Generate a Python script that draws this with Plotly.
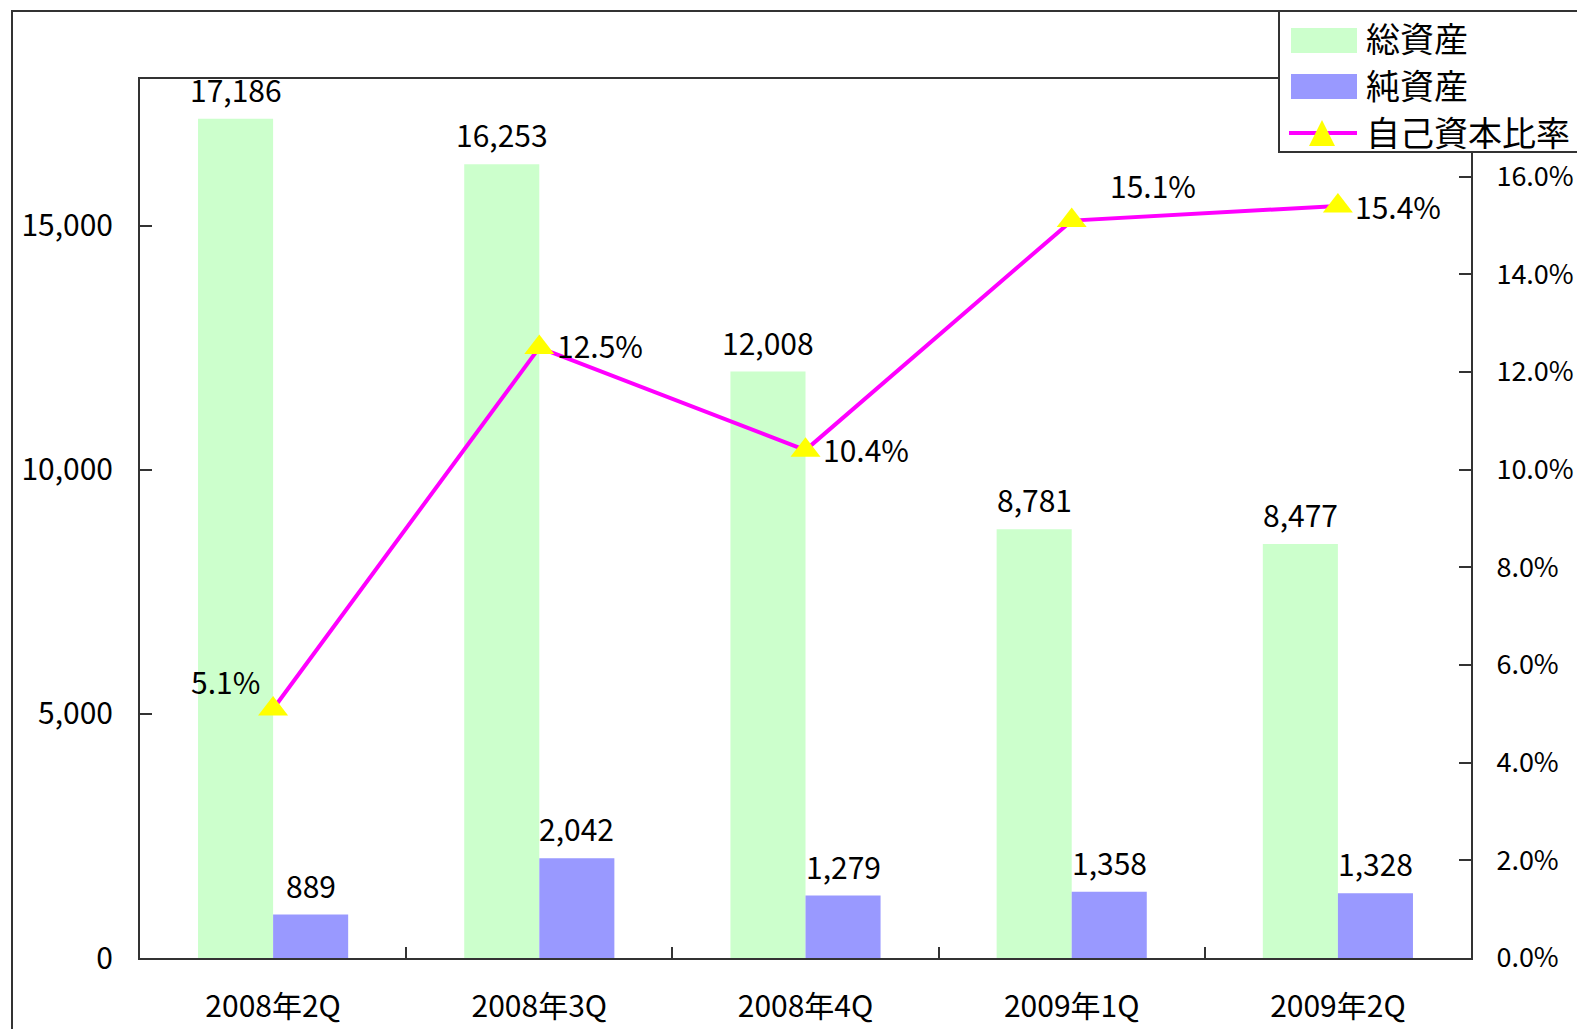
import plotly.graph_objects as go

categories = ["2008年2Q", "2008年3Q", "2008年4Q", "2009年1Q", "2009年2Q"]
total_assets = [17186, 16253, 12008, 8781, 8477]
net_assets = [889, 2042, 1279, 1358, 1328]
equity_ratio = [5.1, 12.5, 10.4, 15.1, 15.4]
series_names = ["総資産", "純資産", "自己資本比率"]

FONT = "Noto Sans CJK JP"
W, H = 1577, 1029
L, R, T, B = 140, 1471, 79, 958
BARGAP = 0.436


def px(x):
    return (x - L) / (R - L)


def py(y):
    return (B - y) / (B - T)


fig = go.Figure()
fig.add_trace(go.Bar(
    x=categories, y=total_assets, name=series_names[0],
    marker=dict(color="#CCFFCC", line=dict(width=0)),
    showlegend=False,
))
fig.add_trace(go.Bar(
    x=categories, y=net_assets, name=series_names[1],
    marker=dict(color="#9999FF", line=dict(width=0)),
    showlegend=False,
))
fig.add_trace(go.Scatter(
    x=categories, y=equity_ratio, name=series_names[2], yaxis="y2",
    mode="lines+markers",
    line=dict(color="#FF00FF", width=4),
    marker=dict(symbol="triangle-up", size=26, color="#FFFF00", line=dict(width=0)),
    cliponaxis=False, showlegend=False,
))

annotations = []
# bar value labels (offset to each bar of the group)
bar_half = (R - L) / len(categories) * (1 - BARGAP) / 4
for series, side in ((total_assets, -1), (net_assets, 1)):
    for c, v in zip(categories, series):
        annotations.append(dict(
            x=c, y=v, xref="x", yref="y", text=f"{v:,}", showarrow=False,
            xshift=side * bar_half, yshift=6, yanchor="bottom",
            font=dict(size=30, color="black", family=FONT),
        ))

# point labels for the line
label_shifts = [(-48, 28), (61, 3), (60, 1), (81, 36), (60, 0)]
for c, v, (dx, dy) in zip(categories, equity_ratio, label_shifts):
    annotations.append(dict(
        x=c, y=v, xref="x", yref="y2", text=f"{v:.1f}%", showarrow=False,
        xshift=dx, yshift=dy, font=dict(size=30, color="black", family=FONT),
    ))

# custom legend
shapes = [
    # outer chart border
    dict(type="rect", xref="paper", yref="paper", x0=px(12), x1=px(1620), y0=py(11), y1=py(1080),
         line=dict(color="#333333", width=2), fillcolor="rgba(0,0,0,0)", layer="below"),
    # legend box
    dict(type="rect", xref="paper", yref="paper", x0=px(1279), x1=px(1600), y0=py(11), y1=py(152),
         line=dict(color="#333333", width=2), fillcolor="white", layer="above"),
    dict(type="rect", xref="paper", yref="paper", x0=px(1291), x1=px(1357), y0=py(28), y1=py(53),
         line=dict(width=0), fillcolor="#CCFFCC", layer="above"),
    dict(type="rect", xref="paper", yref="paper", x0=px(1291), x1=px(1357), y0=py(74), y1=py(99),
         line=dict(width=0), fillcolor="#9999FF", layer="above"),
    dict(type="line", xref="paper", yref="paper", x0=px(1289), x1=px(1357), y0=py(133), y1=py(133),
         line=dict(color="#FF00FF", width=4), layer="above"),
    dict(type="path", xref="paper", yref="paper",
         path=f"M{px(1309)},{py(146)} L{px(1335)},{py(146)} L{px(1322)},{py(120)} Z",
         line=dict(width=0), fillcolor="#FFFF00", layer="above"),
]
for name, yc in zip(series_names, [38, 85, 131]):
    annotations.append(dict(
        x=px(1364), y=py(yc), xref="paper", yref="paper", text=name, showarrow=False,
        xanchor="left", yanchor="middle", font=dict(size=34, color="black", family=FONT),
    ))

axis_common = dict(showline=True, linecolor="#333333", linewidth=2, showgrid=False,
                   zeroline=False, automargin=False)

fig.update_layout(
    width=W, height=H,
    margin=dict(l=L, r=W - R, t=T, b=H - B, pad=0, autoexpand=False),
    paper_bgcolor="white", plot_bgcolor="white",
    font=dict(family=FONT, size=30, color="black"),
    barmode="group", bargap=BARGAP, bargroupgap=0,
    xaxis=dict(**axis_common, mirror=True, type="category", ticks="inside", tickson="boundaries",
               ticklen=11, tickcolor="#333333", tickwidth=1.5, tickfont=dict(size=30),
               ticklabelstandoff=21),
    yaxis=dict(**axis_common, mirror=False, range=[0, 18000], dtick=5000, tickformat=",",
               ticks="inside", ticklen=12, tickcolor="#333333", tickwidth=1.5,
               tickfont=dict(size=30), ticklabelstandoff=19),
    yaxis2=dict(**axis_common, overlaying="y", side="right", range=[0, 18], dtick=2,
                tickformat=".1f", ticksuffix="%", ticks="inside", ticklen=12,
                tickcolor="#333333", tickwidth=1.5, tickfont=dict(size=27),
                ticklabelstandoff=18),
    annotations=annotations,
    shapes=shapes,
)

fig.write_html("out.html", config={"displayModeBar": False},
               post_script="document.body.style.margin='0';")
